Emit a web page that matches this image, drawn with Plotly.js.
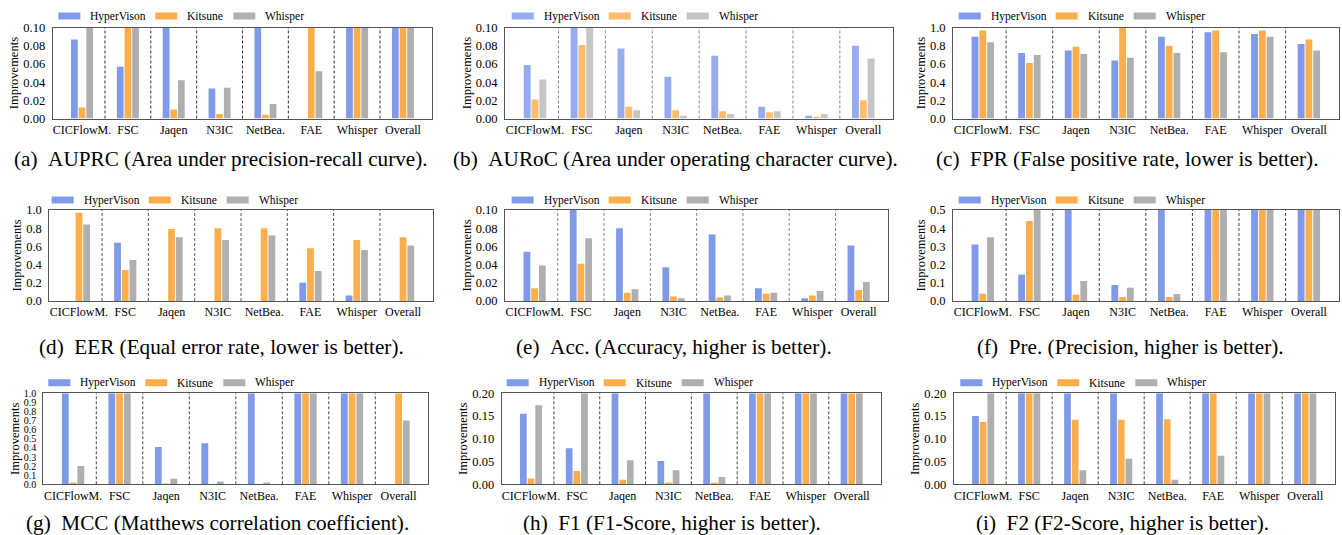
<!DOCTYPE html>
<html>
<head>
<meta charset="utf-8">
<script src="https://cdn.plot.ly/plotly-3.0.1.min.js"></script>
<style>html,body{margin:0;padding:0;background:#fff;}#chart{width:1342px;height:535px;}</style>
</head>
<body>
<div id="chart"></div>
<script>
// ---------- DATA ----------
const categories = ['CICFlowM.', 'FSC', 'Jaqen', 'N3IC', 'NetBea.', 'FAE', 'Whisper', 'Overall'];
const seriesNames = ['HyperVison', 'Kitsune', 'Whisper'];

// (a) AUPRC  (bars reaching the top are clipped at the axis limit)
const auprcHyper   = [0.087, 0.057, 0.10, 0.033, 0.10, 0.0, 0.10, 0.10];
const auprcKitsune = [0.012, 0.10, 0.010, 0.005, 0.004, 0.10, 0.10, 0.10];
const auprcWhisper = [0.10, 0.10, 0.042, 0.034, 0.016, 0.052, 0.10, 0.10];
// (b) AUROC
const aurocHyper   = [0.059, 0.10, 0.077, 0.046, 0.069, 0.013, 0.003, 0.080];
const aurocKitsune = [0.021, 0.081, 0.013, 0.009, 0.008, 0.007, 0.002, 0.020];
const aurocWhisper = [0.043, 0.10, 0.009, 0.003, 0.005, 0.008, 0.005, 0.066];
// (c) FPR
const fprHyper   = [0.90, 0.72, 0.75, 0.64, 0.90, 0.95, 0.93, 0.82];
const fprKitsune = [0.97, 0.61, 0.79, 1.00, 0.80, 0.97, 0.97, 0.87];
const fprWhisper = [0.84, 0.70, 0.71, 0.67, 0.72, 0.73, 0.90, 0.75];
// (d) EER
const eerHyper   = [0.0, 0.64, 0.0, 0.0, 0.0, 0.20, 0.06, 0.0];
const eerKitsune = [0.97, 0.34, 0.79, 0.80, 0.80, 0.58, 0.67, 0.70];
const eerWhisper = [0.84, 0.45, 0.70, 0.67, 0.72, 0.33, 0.56, 0.61];
// (e) Accuracy
const accHyper   = [0.054, 0.10, 0.080, 0.037, 0.073, 0.014, 0.003, 0.061];
const accKitsune = [0.014, 0.041, 0.009, 0.005, 0.004, 0.008, 0.006, 0.012];
const accWhisper = [0.039, 0.069, 0.013, 0.003, 0.006, 0.009, 0.011, 0.021];
// (f) Precision
const preHyper   = [0.31, 0.145, 0.5, 0.088, 0.5, 0.5, 0.5, 0.5];
const preKitsune = [0.04, 0.44, 0.035, 0.022, 0.022, 0.5, 0.5, 0.5];
const preWhisper = [0.35, 0.5, 0.11, 0.073, 0.038, 0.5, 0.5, 0.5];
// (g) MCC
const mccHyper   = [1.0, 1.0, 0.41, 0.45, 1.0, 1.0, 1.0, 0.0];
const mccKitsune = [0.02, 1.0, 0.01, 0.0, 0.0, 1.0, 1.0, 1.0];
const mccWhisper = [0.20, 1.0, 0.06, 0.03, 0.02, 1.0, 1.0, 0.70];
// (h) F1
const f1Hyper   = [0.155, 0.079, 0.2, 0.051, 0.2, 0.2, 0.2, 0.2];
const f1Kitsune = [0.013, 0.029, 0.010, 0.004, 0.004, 0.2, 0.2, 0.2];
const f1Whisper = [0.174, 0.2, 0.053, 0.031, 0.016, 0.2, 0.2, 0.2];
// (i) F2
const f2Hyper   = [0.150, 0.2, 0.2, 0.2, 0.2, 0.2, 0.2, 0.2];
const f2Kitsune = [0.137, 0.2, 0.142, 0.142, 0.143, 0.2, 0.2, 0.2];
const f2Whisper = [0.2, 0.2, 0.031, 0.056, 0.010, 0.063, 0.2, 0.2];

const captions = [
  '(a)\u00a0\u00a0AUPRC (Area under precision-recall curve).',
  '(b)\u00a0\u00a0AURoC (Area under operating character curve).',
  '(c)\u00a0\u00a0FPR (False positive rate, lower is better).',
  '(d)\u00a0\u00a0EER (Equal error rate, lower is better).',
  '(e)\u00a0\u00a0Acc. (Accuracy, higher is better).',
  '(f)\u00a0\u00a0Pre. (Precision, higher is better).',
  '(g)\u00a0\u00a0MCC (Matthews correlation coefficient).',
  '(h)\u00a0\u00a0F1 (F1-Score, higher is better).',
  '(i)\u00a0\u00a0F2 (F2-Score, higher is better).'
];
const yTitle = 'Improvements';

// ---------- STYLE / LAYOUT ----------
const W = 1342, H = 535;
const FONT = '"Liberation Serif", "DejaVu Serif", serif';
const colorsStd = ['#7f9ae8', '#fdae4c', '#afafaf'];
const colorsLight = ['#95adf0', '#fdbd6c', '#c6c6c6'];

const panels = [
  {vals: [auprcHyper, auprcKitsune, auprcWhisper], ymax: 0.1, dtick: 0.02, fmt: '.2f', box: [52.7, 432.3, 27.7, 118.5], cap: [221, 159], leg: [58.3, 16], light: false, dash: '#333', tfs: 12.5},
  {vals: [aurocHyper, aurocKitsune, aurocWhisper], ymax: 0.1, dtick: 0.02, fmt: '.2f', box: [505, 893.3, 27.7, 118.5], cap: [675, 159], leg: [511.7, 16], light: true, dash: '#888', tfs: 12.5},
  {vals: [fprHyper, fprKitsune, fprWhisper], ymax: 1.0, dtick: 0.2, fmt: '.1f', box: [953, 1338.7, 27.7, 118.5], cap: [1127, 159], leg: [958.7, 16], light: false, dash: '#444', tfs: 12.5},
  {vals: [eerHyper, eerKitsune, eerWhisper], ymax: 1.0, dtick: 0.2, fmt: '.1f', box: [49.3, 432.7, 210, 301], cap: [221, 347], leg: [51.7, 200], light: false, dash: '#555', tfs: 12.5},
  {vals: [accHyper, accKitsune, accWhisper], ymax: 0.1, dtick: 0.02, fmt: '.2f', box: [505, 888.3, 210, 301], cap: [674, 347], leg: [511.7, 200], light: false, dash: '#888', tfs: 12.5},
  {vals: [preHyper, preKitsune, preWhisper], ymax: 0.5, dtick: 0.1, fmt: '.1f', box: [953, 1338.7, 210, 301], cap: [1130, 347], leg: [958.7, 200], light: false, dash: '#444', tfs: 12.5},
  {vals: [mccHyper, mccKitsune, mccWhisper], ymax: 1.0, dtick: 0.1, fmt: '.1f', box: [43.3, 428.3, 393.3, 484.3], cap: [218, 523], leg: [48.3, 382.7], light: false, dash: '#444', tfs: 10},
  {vals: [f1Hyper, f1Kitsune, f1Whisper], ymax: 0.2, dtick: 0.05, fmt: '.2f', box: [501.7, 881, 393.3, 484.3], cap: [672, 523], leg: [506.7, 382.7], light: false, dash: '#444', tfs: 12.5},
  {vals: [f2Hyper, f2Kitsune, f2Whisper], ymax: 0.2, dtick: 0.05, fmt: '.2f', box: [953.7, 1334.7, 393.3, 484.3], cap: [1122, 523], leg: [960.3, 382.7], light: false, dash: '#444', tfs: 12.5}
];

const traces = [];
const layout = {
  width: W, height: H,
  margin: {l: 0, r: 0, t: 0, b: 0},
  paper_bgcolor: '#ffffff', plot_bgcolor: '#ffffff',
  showlegend: false,
  barmode: 'group', bargap: 0.5, bargroupgap: 0.12,
  font: {family: FONT, color: '#000', size: 12},
  shapes: [], annotations: []
};

const legOffsets = [0, 97, 175];

panels.forEach((p, idx) => {
  const n = idx + 1;
  const xa = n === 1 ? 'x' : 'x' + n;
  const ya = n === 1 ? 'y' : 'y' + n;
  const colors = p.light ? colorsLight : colorsStd;
  seriesNames.forEach((name, s) => {
    traces.push({
      type: 'bar', name: name, x: categories, y: p.vals[s],
      xaxis: xa, yaxis: ya,
      marker: {color: colors[s], line: {width: 0}},
      hoverinfo: 'x+y+name'
    });
  });
  const [L, R, T, B] = p.box;
  const xKey = n === 1 ? 'xaxis' : 'xaxis' + n;
  const yKey = n === 1 ? 'yaxis' : 'yaxis' + n;
  layout[xKey] = {
    domain: [L / W, R / W], anchor: ya,
    type: 'category', range: [-0.64, categories.length - 1 + 0.64],
    showline: true, mirror: true, linecolor: '#555', linewidth: 1,
    showgrid: false, zeroline: false, ticks: '',
    tickfont: {family: FONT, size: 12, color: '#000'}, fixedrange: true
  };
  layout[yKey] = {
    domain: [1 - B / H, 1 - T / H], anchor: xa,
    range: [0, p.ymax], dtick: p.dtick, tick0: 0, tickformat: p.fmt,
    showline: true, mirror: true, linecolor: '#555', linewidth: 1,
    showgrid: false, zeroline: false, ticks: '', ticklabelstandoff: 4,
    tickfont: {family: FONT, size: p.tfs, color: '#000'},
    title: {text: yTitle, font: {family: FONT, size: 12.5, color: '#000'}, standoff: 1},
    fixedrange: true
  };
  // dashed group separators
  for (let i = 0; i < categories.length - 1; i++) {
    layout.shapes.push({
      type: 'line', xref: xa, yref: ya + ' domain',
      x0: i + 0.5, x1: i + 0.5, y0: 0, y1: 1,
      line: {color: p.dash, width: 1, dash: '3px,2px'}
    });
  }
  // legend (patches + labels)
  const [lx, ly] = p.leg;
  seriesNames.forEach((name, s) => {
    const px = lx + legOffsets[s];
    layout.shapes.push({
      type: 'rect', xref: 'paper', yref: 'paper',
      x0: px / W, x1: (px + 22) / W, y0: 1 - (ly + 3.5) / H, y1: 1 - (ly - 3.5) / H,
      fillcolor: colors[s], line: {width: 0}
    });
    layout.annotations.push({
      xref: 'paper', yref: 'paper', x: (px + 30) / W, y: 1 - ly / H,
      xanchor: 'left', yanchor: 'middle', showarrow: false,
      text: name, font: {family: FONT, size: 11.5, color: '#000'}
    });
  });
  // caption
  layout.annotations.push({
    xref: 'paper', yref: 'paper', x: p.cap[0] / W, y: 1 - p.cap[1] / H,
    xanchor: 'center', yanchor: 'middle', showarrow: false,
    text: captions[idx], font: {family: FONT, size: 21.2, color: '#000'}
  });
});

Plotly.newPlot('chart', traces, layout, {displayModeBar: false, staticPlot: true});
</script>
</body>
</html>
